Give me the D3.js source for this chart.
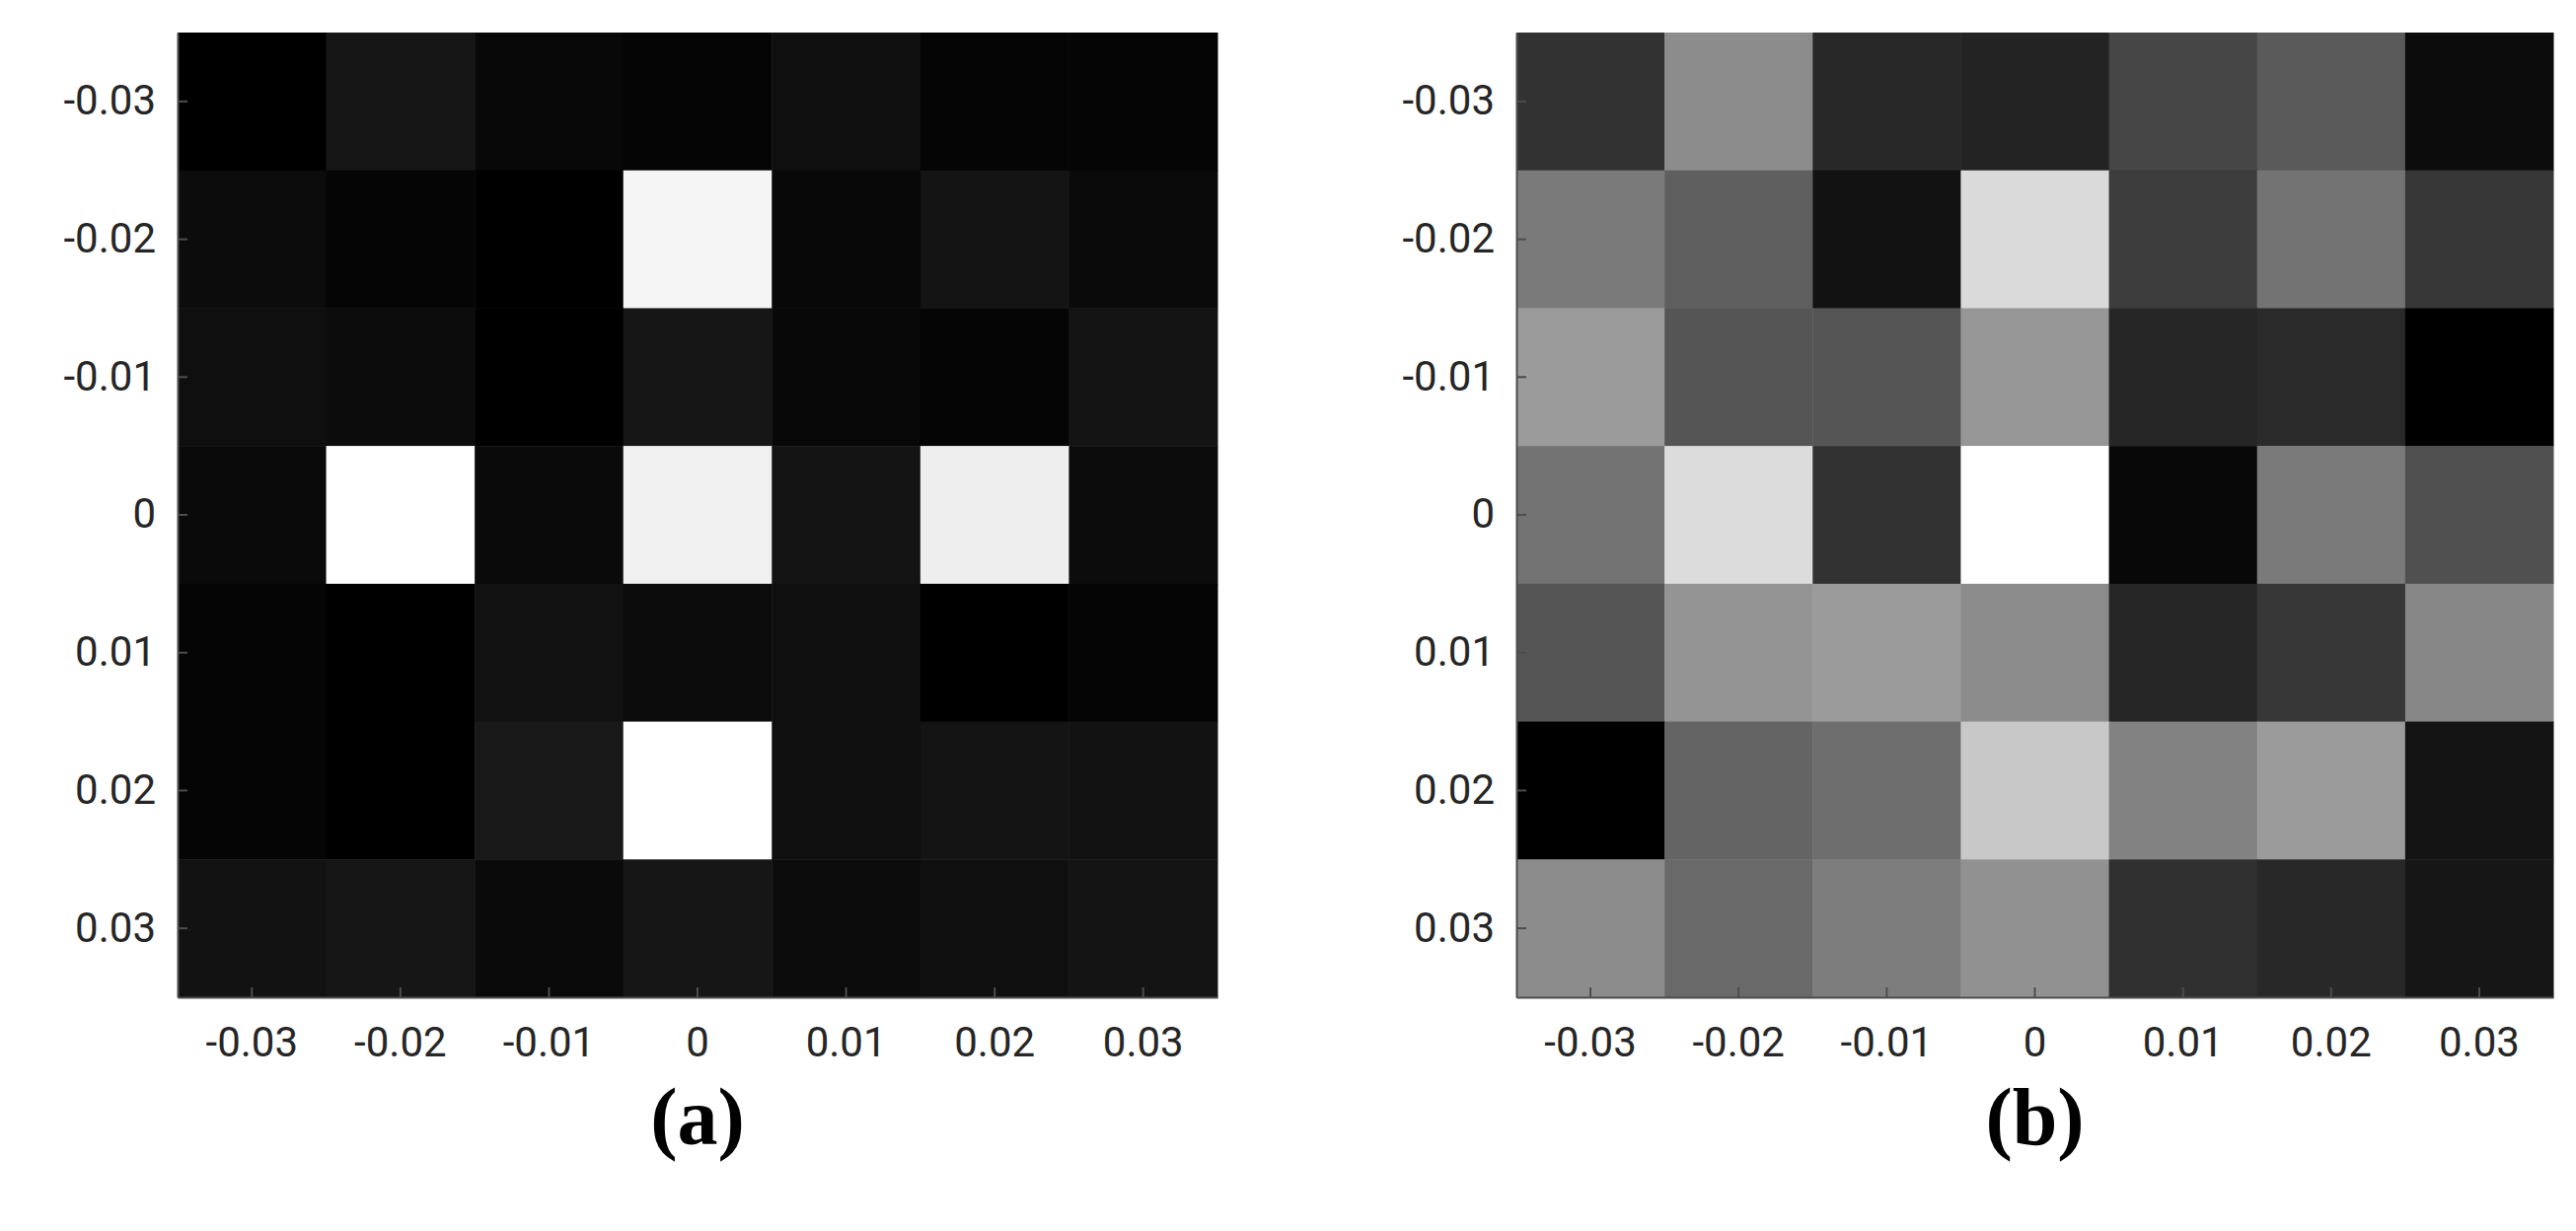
<!DOCTYPE html>
<html><head><meta charset="utf-8">
<script src="https://cdn.jsdelivr.net/npm/d3@7"></script>
<style>body{margin:0;background:#fff}</style></head>
<body><svg id="c" width="2611" height="1248"></svg>
<script>
const ticks = [-0.03, -0.02, -0.01, 0, 0.01, 0.02, 0.03];
const tickLabels = ['-0.03', '-0.02', '-0.01', '0', '0.01', '0.02', '0.03'];
// intensity rows, top (y=-0.03) to bottom (y=0.03)
const valuesA = [
  [0, 22, 8, 5, 15, 5, 5],
  [12, 5, 0, 245, 8, 20, 10],
  [15, 12, 0, 22, 8, 5, 20],
  [10, 255, 10, 240, 20, 238, 12],
  [5, 0, 18, 12, 15, 0, 5],
  [5, 0, 25, 255, 15, 20, 18],
  [18, 22, 10, 22, 12, 15, 20]
];
const valuesB = [
  [50, 140, 40, 35, 70, 90, 12],
  [122, 95, 18, 218, 60, 115, 55],
  [155, 85, 85, 150, 38, 42, 0],
  [115, 220, 50, 255, 8, 122, 80],
  [85, 148, 155, 140, 38, 55, 135],
  [0, 100, 110, 200, 130, 155, 20],
  [140, 105, 125, 145, 48, 40, 22]
];
const panels = [
  {label: '(a)', x0: 180, x1: 1234, data: valuesA},
  {label: '(b)', x0: 1537, x1: 2588, data: valuesB}
];
const y0 = 33, y1 = 1011;
const svg = d3.select('#c');
const gray = d3.scaleLinear().domain([0, 255]).range(['#000', '#fff']);

panels.forEach(p => {
  const x = d3.scaleBand().domain(ticks).range([p.x0, p.x1]).padding(0);
  const y = d3.scaleBand().domain(ticks).range([y0, y1]).padding(0);
  const g = svg.append('g');
  const cells = [];
  p.data.forEach((row, i) => row.forEach((v, j) => cells.push({r: ticks[i], c: ticks[j], v})));
  g.selectAll('rect').data(cells).join('rect')
    .attr('x', d => x(d.c)).attr('y', d => y(d.r))
    .attr('width', x.bandwidth() + 0.5).attr('height', y.bandwidth() + 0.5)
    .attr('fill', d => gray(d.v));

  const fmt = (d, i) => tickLabels[i];
  const xa = g.append('g').attr('transform', `translate(0,${y1})`)
    .call(d3.axisBottom(x).tickSize(-10).tickSizeOuter(0).tickFormat(fmt).tickPadding(30));
  const ya = g.append('g').attr('transform', `translate(${p.x0},0)`)
    .call(d3.axisLeft(y).tickSize(-10).tickSizeOuter(0).tickFormat(fmt).tickPadding(22));
  [xa, ya].forEach(a => {
    a.selectAll('path,line').attr('stroke', '#4d4d4d').attr('stroke-width', 2);
    a.selectAll('text').attr('font-family', 'Roboto, Arial, sans-serif')
      .attr('font-size', 42).attr('fill', '#262626');
  });

  svg.append('text').attr('x', (p.x0 + p.x1) / 2).attr('y', 1160)
    .attr('text-anchor', 'middle').attr('font-family', '"Liberation Serif", "Times New Roman", serif')
    .attr('font-weight', 'bold').attr('font-size', 82).text(p.label);
});
</script></body></html>
